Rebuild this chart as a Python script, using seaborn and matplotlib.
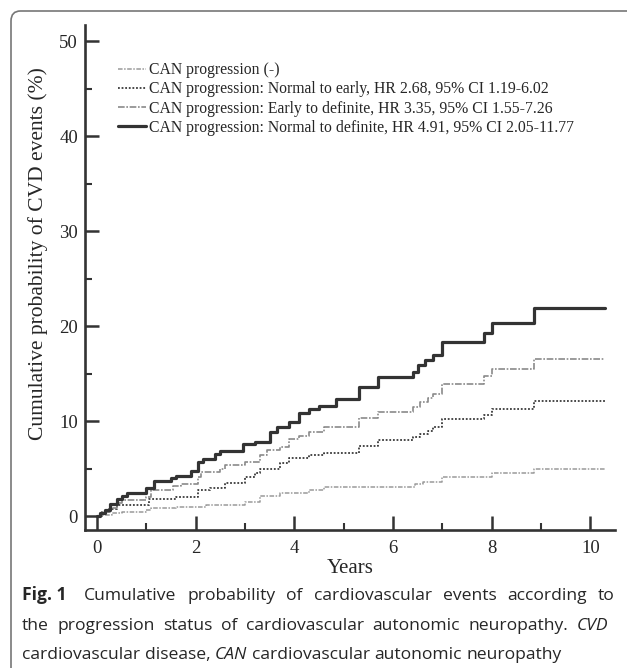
import seaborn as sns
import numpy as np
import matplotlib.pyplot as plt
import pandas as pd
from matplotlib.patches import FancyBboxPatch

# kaplan-meier tyyliset kertymäkäyrät, arvot luettu kuvasta
t_neg = [0, 0.1, 0.3, 0.5, 1.0, 1.1, 1.6, 2.2, 3.0, 3.3, 3.7, 4.3, 4.6, 6.45, 6.6, 7.0, 8.0, 8.85, 10.3]
v_neg = [0, 0.1, 0.3, 0.4, 0.6, 0.8, 1.0, 1.2, 1.5, 2.1, 2.4, 2.7, 3.1, 3.4, 3.6, 4.1, 4.5, 4.9, 4.9]

t_ne = [0, 0.1, 0.25, 0.4, 1.05, 1.6, 2.05, 2.3, 2.6, 3.0, 3.2, 3.3, 3.7, 3.9, 4.3, 4.6, 5.3, 5.7,
        6.4, 6.55, 6.7, 6.8, 7.0, 7.85, 8.0, 8.85, 10.3]
v_ne = [0, 0.4, 0.7, 1.2, 1.8, 2.0, 2.7, 3.0, 3.5, 4.1, 4.5, 5.0, 5.6, 6.1, 6.4, 6.6, 7.4, 8.0,
        8.3, 8.6, 8.9, 9.4, 10.2, 10.6, 11.3, 12.1, 12.1]

t_ed = [0, 0.1, 0.27, 0.4, 0.5, 1.0, 1.1, 1.55, 1.7, 2.05, 2.1, 2.5, 2.6, 3.0, 3.3, 3.45, 3.7, 3.9,
        4.1, 4.3, 4.6, 5.3, 5.7, 6.4, 6.55, 6.7, 6.8, 7.0, 7.85, 8.0, 8.85, 10.3]
v_ed = [0, 0.4, 0.8, 1.4, 1.7, 2.0, 2.7, 3.2, 3.4, 4.1, 4.6, 5.0, 5.4, 5.7, 6.4, 7.0, 7.3, 8.1,
        8.4, 8.8, 9.4, 10.3, 11.0, 11.5, 12.0, 12.4, 12.8, 13.9, 14.7, 15.5, 16.5, 16.5]

t_nd = [0, 0.06, 0.16, 0.27, 0.4, 0.5, 0.6, 1.0, 1.15, 1.5, 1.6, 1.9, 2.05, 2.15, 2.4, 2.5, 2.95, 3.2,
        3.5, 3.65, 3.9, 4.1, 4.3, 4.5, 4.85, 5.3, 5.7, 6.4, 6.5, 6.65, 6.8, 7.0, 7.85, 8.0, 8.85, 10.3]
v_nd = [0, 0.3, 0.6, 1.3, 1.8, 2.1, 2.4, 3.0, 3.7, 4.0, 4.2, 4.7, 5.7, 6.0, 6.5, 6.8, 7.6, 7.8,
        8.8, 9.4, 9.9, 10.9, 11.3, 11.6, 12.3, 13.6, 14.6, 15.2, 15.9, 16.4, 17.0, 18.3, 19.3, 20.3, 21.9, 21.9]

nimet = ["CAN progression (-)",
         "CAN progression: Normal to early, HR 2.68, 95% CI 1.19-6.02",
         "CAN progression: Early to definite, HR 3.35, 95% CI 1.55-7.26",
         "CAN progression: Normal to definite, HR 4.91, 95% CI 2.05-11.77"]

sns.set_style("ticks")
plt.rcParams['font.family'] = ['Liberation Serif', 'DejaVu Serif']

fig = plt.figure(figsize=(6.27, 6.68), dpi=100)
ax = fig.add_axes([0.1356, 0.2066, 0.8454, 0.756])

tyylit = [("#9a9a9a", (0, (3, 1, 1, 1)), 1.1),
          ("#3a3a3a", (0, (1, 1)), 1.3),
          ("#8a8a8a", (0, (4, 1, 1, 1)), 1.2),
          ("#333333", "-", 2.3)]
sarjat = [(t_neg, v_neg), (t_ne, v_ne), (t_ed, v_ed), (t_nd, v_nd)]

for (t, v), nimi, (vari, ls, lw) in zip(sarjat, nimet, tyylit):
    df = pd.DataFrame({"aika": t, "arvo": v})
    sns.lineplot(data=df, x="aika", y="arvo", ax=ax, color=vari, linestyle=ls, lw=lw,
                 drawstyle="steps-post", estimator=None, sort=False, label=nimi)

ax.set_xlim(-0.243, 10.5)
ax.set_ylim(-1.47, 51.7)
ax.set_xticks([0, 2, 4, 6, 8, 10])
ax.set_xticks([1, 3, 5, 7, 9], minor=True)
ax.set_yticks([0, 10, 20, 30, 40, 50])
ax.set_yticks([5, 15, 25, 35, 45], minor=True)
ax.tick_params(which="major", direction="in", length=10, width=1.8, color="#333333",
               labelsize=13.5, pad=7)
ax.tick_params(which="minor", direction="in", length=5, width=1.5, color="#333333")
ax.tick_params(axis="y", pad=5)
sns.despine(ax=ax)
for s in ["left", "bottom"]:
    ax.spines[s].set_linewidth(1.9)
    ax.spines[s].set_color("#333333")

ax.set_xlabel("Years", fontsize=15, labelpad=2)
ax.set_ylabel("Cumulative probability of CVD events (%)", fontsize=15.5)
ax.yaxis.set_label_coords(-0.069, 0.548)

leg = ax.legend(loc="upper left", bbox_to_anchor=(0.062, 0.926), frameon=False, fontsize=11.3,
                borderpad=0, borderaxespad=0, handlelength=1.8, handletextpad=0.2,
                labelspacing=0.2)

# kehys
fig.patches.append(FancyBboxPatch((11 / 627, -0.05), 1.2, (668 - 11) / 668 + 0.05,
                                  boxstyle="round,pad=0,rounding_size=0.015",
                                  transform=fig.transFigure, fill=False,
                                  edgecolor="#777777", lw=1.2))

# kuvateksti, kaksi ensimmäistä riviä tasattu molempiin reunoihin
fig.canvas.draw()
r = fig.canvas.get_renderer()
vasen = 22 / 627
leveys = 586 / 627
koko = 12.6


def rivi(osat, y, tasaa=True):
    sanat = []
    for teksti, paino, tyyli in osat:
        if paino == "bold":
            sanat.append((teksti, paino, tyyli))
        else:
            for s in teksti.split():
                sanat.append((s, paino, tyyli))
    objs = []
    for s, paino, tyyli in sanat:
        tt = fig.text(vasen, y, s, fontsize=koko, family="Open Sans", weight=paino,
                      style=tyyli, va="baseline", ha="left")
        objs.append(tt)
    lev = [o.get_window_extent(r).width / fig.bbox.width for o in objs]
    apu = fig.text(0, 0, "a a", fontsize=koko, family="Open Sans")
    apu2 = fig.text(0, 0, "aa", fontsize=koko, family="Open Sans")
    vali = (apu.get_window_extent(r).width - apu2.get_window_extent(r).width) / fig.bbox.width
    apu.remove()
    apu2.remove()
    if tasaa:
        vali = max(vali, (leveys - sum(lev)) / (len(objs) - 1))
    x = vasen
    for i, (o, w) in enumerate(zip(objs, lev)):
        o.set_x(x)
        x += w + vali * (1.6 if i == 0 and sanat[0][1] == "bold" else 1)


rivi([("Fig. 1", "bold", "normal"),
      ("Cumulative probability of cardiovascular events according to", "normal", "normal")],
     (668 - 600) / 668)
rivi([("the progression status of cardiovascular autonomic neuropathy.", "normal", "normal"),
      ("CVD", "normal", "italic")], (668 - 630) / 668)
rivi([("cardiovascular disease,", "normal", "normal"), ("CAN", "normal", "italic"),
      ("cardiovascular autonomic neuropathy", "normal", "normal")], (668 - 659) / 668, tasaa=False)

plt.savefig("out.png", dpi=100)
